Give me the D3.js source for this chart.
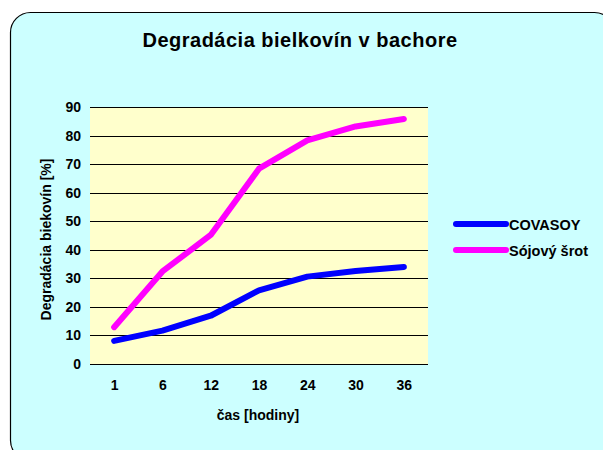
<!DOCTYPE html>
<html>
<head>
<meta charset="utf-8" />
<script src="https://d3js.org/d3.v7.min.js"></script>
<style>
    body { margin: 0; background: #fff; }
    svg { display: block; font-family: "Liberation Sans", Arial, sans-serif; }
</style>
</head>
<body>
<div id="holder"></div>
<script>
    //Data
    const hours = ["1", "6", "12", "18", "24", "30", "36"];
    const covasoy = [8.1, 11.7, 16.9, 25.8, 30.6, 32.6, 34.0];
    const srot = [12.9, 32.4, 45.2, 68.4, 78.3, 83.2, 85.8];
    const yTicks = [0, 10, 20, 30, 40, 50, 60, 70, 80, 90];
    const seriesNames = ["COVASOY", "Sójový šrot"];
    const seriesColors = ["#0000ff", "#ff00ff"];

    //Variables
    const w = 603;
    const h = 450;
    const plot = {left: 90, right: 428, top: 107, bottom: 364};
    const fs = "14px";

    const svg = d3.select("#holder")
        .append("svg")
        .attr("width", w)
        .attr("height", h);

    //Frame
    svg.append("rect")
        .attr("x", 10.5)
        .attr("y", 12.5)
        .attr("width", 604)
        .attr("height", 448)
        .attr("rx", 20)
        .attr("fill", "#ccffff")
        .attr("stroke", "#000")
        .attr("stroke-width", 1.2);

    //Title
    svg.append("text")
        .attr("x", 300)
        .attr("y", 47)
        .attr("text-anchor", "middle")
        .style("font-size", "20px")
        .style("font-weight", "bold")
        .style("letter-spacing", "0.5px")
        .text("Degradácia bielkovín v bachore");

    //Scales
    const xScale = d3.scalePoint()
        .domain(hours)
        .range([plot.left, plot.right])
        .padding(0.5);

    const yScale = d3.scaleLinear()
        .domain([0, 90])
        .range([plot.bottom, plot.top]);

    //Plot area
    svg.append("rect")
        .attr("x", plot.left)
        .attr("y", plot.top)
        .attr("width", plot.right - plot.left)
        .attr("height", plot.bottom - plot.top)
        .attr("fill", "#ffffcc");

    //Gridlines
    svg.append("g")
        .selectAll("line")
        .data(yTicks)
        .enter()
        .append("line")
        .attr("x1", plot.left)
        .attr("x2", plot.right)
        .attr("y1", d => Math.round(yScale(d)) + 0.5)
        .attr("y2", d => Math.round(yScale(d)) + 0.5)
        .attr("stroke", "#000")
        .attr("stroke-width", 1);

    //Axes
    const yAxis = d3.axisLeft(yScale).tickValues(yTicks).tickSize(0).tickPadding(9);
    svg.append("g")
        .attr("transform", "translate(" + plot.left + ",0)")
        .call(yAxis)
        .call(g => g.select(".domain").remove())
        .selectAll("text")
        .style("font-size", fs)
        .style("font-weight", "bold")
        .style("font-family", "Liberation Sans, Arial, sans-serif")
        .attr("fill", "#000");

    const xAxis = d3.axisBottom(xScale).tickSize(0).tickPadding(16);
    svg.append("g")
        .attr("transform", "translate(0," + plot.bottom + ")")
        .call(xAxis)
        .call(g => g.select(".domain").remove())
        .selectAll("text")
        .style("font-size", fs)
        .style("font-weight", "bold")
        .style("font-family", "Liberation Sans, Arial, sans-serif")
        .attr("fill", "#000");

    //Lines
    const line = d3.line()
        .x((d, i) => xScale(hours[i]))
        .y(d => yScale(d));

    [covasoy, srot].forEach((s, i) => {
        svg.append("path")
            .datum(s)
            .attr("d", line)
            .attr("fill", "none")
            .attr("stroke", seriesColors[i])
            .attr("stroke-width", 6)
            .attr("stroke-linecap", "round")
            .attr("stroke-linejoin", "round");
    });

    //Labels
    svg.append("text")
        .attr("x", 258)
        .attr("y", 420)
        .attr("text-anchor", "middle")
        .style("font-size", fs)
        .style("font-weight", "bold")
        .text("čas [hodiny]");

    svg.append("text")
        .attr("transform", "translate(51,239.5) rotate(-90)")
        .attr("text-anchor", "middle")
        .style("font-size", fs)
        .style("font-weight", "bold")
        .text("Degradácia biekovín [%]");

    //Legend
    const legend = svg.append("g")
        .selectAll("g")
        .data(seriesNames)
        .enter()
        .append("g")
        .attr("transform", (d, i) => "translate(0," + (224 + i * 26) + ")");

    legend.append("line")
        .attr("x1", 456)
        .attr("x2", 506)
        .attr("stroke", (d, i) => seriesColors[i])
        .attr("stroke-width", 6)
        .attr("stroke-linecap", "round");

    legend.append("text")
        .attr("x", 509)
        .attr("y", 6)
        .style("font-size", "14.5px")
        .style("font-weight", "bold")
        .text(d => d);
</script>
</body>
</html>
